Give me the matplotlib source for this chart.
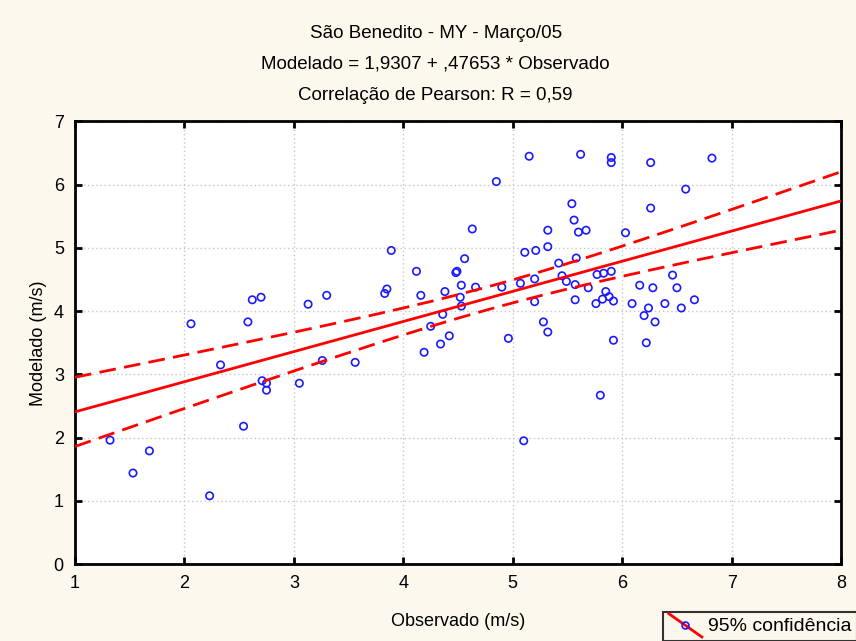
import numpy as np
import matplotlib
matplotlib.use("Agg")
import matplotlib.pyplot as plt
from matplotlib import font_manager
from matplotlib.lines import Line2D
from matplotlib.legend_handler import HandlerLine2D

# observado / modelado (m/s)
obs = [1.32, 1.53, 1.68, 2.06, 2.23, 2.33, 2.54, 2.58, 2.62, 2.70, 2.71, 2.75, 2.75, 3.05, 3.13,
       3.30, 3.26, 3.56, 3.83, 3.85, 3.89, 4.12, 4.16, 4.19, 4.25, 4.34, 4.36, 4.38, 4.42, 4.48,
       4.49, 4.52, 4.53, 4.53, 4.56, 4.63, 4.66, 4.85, 4.90, 4.96, 5.07, 5.11, 5.15, 5.20, 5.20,
       5.21, 5.28, 5.32, 5.32, 5.32, 5.62, 5.90, 5.90, 6.26, 6.82, 6.58, 5.54, 6.26, 5.56, 5.60,
       5.67, 6.03, 5.42, 5.58, 5.45, 5.49, 5.57, 5.69, 5.77, 5.83, 5.90, 6.46, 6.16, 6.28, 6.50,
       5.85, 5.88, 5.92, 5.82, 5.76, 5.57, 6.09, 6.24, 6.39, 6.54, 6.66, 6.20, 6.30, 5.92, 6.22,
       5.80, 5.10]
mod = [1.96, 1.44, 1.79, 3.80, 1.08, 3.15, 2.18, 3.83, 4.18, 4.22, 2.90, 2.86, 2.75, 2.86, 4.11,
       4.25, 3.22, 3.19, 4.28, 4.35, 4.96, 4.63, 4.25, 3.35, 3.76, 3.48, 3.95, 4.31, 3.61, 4.61,
       4.63, 4.22, 4.08, 4.41, 4.83, 5.30, 4.38, 6.05, 4.38, 3.57, 4.44, 4.93, 6.45, 4.51, 4.15,
       4.96, 3.83, 5.28, 5.02, 3.67, 6.48, 6.43, 6.35, 6.35, 6.42, 5.93, 5.70, 5.63, 5.44, 5.25,
       5.28, 5.24, 4.76, 4.84, 4.56, 4.47, 4.42, 4.37, 4.58, 4.60, 4.63, 4.57, 4.41, 4.37, 4.37,
       4.31, 4.23, 4.16, 4.19, 4.12, 4.18, 4.12, 4.05, 4.12, 4.05, 4.18, 3.93, 3.83, 3.54, 3.50,
       2.67, 1.95]

# regression from the title
a = 1.9307
b = 0.47653

names = [f.name for f in font_manager.fontManager.ttflist]
if "Liberation Sans Narrow" in names:
  font = "Liberation Sans Narrow"
else:
  font = "Liberation Sans"
plt.rcParams['font.family'] = [font, 'DejaVu Sans']

bg = "#fcf8ee"
fig = plt.figure(figsize=(8.56, 6.41), dpi=100, facecolor=bg)
ax = fig.add_axes([0.0876, 0.12, 0.895, 0.6905])
ax.set_facecolor("white")

x = np.array(obs)
y = np.array(mod)
n = len(x)
xx = np.linspace(1, 8, 200)
yy = a + b * xx

# 95% confidence band around the mean prediction
resid = y - (a + b * x)
s = np.sqrt(np.sum(resid**2) / (n - 2))
sxx = np.sum((x - x.mean())**2)
half = 1.986 * s * np.sqrt(1.0 / n + (xx - x.mean())**2 / sxx)

ax.scatter(obs, mod, s=28, facecolors='none', edgecolors='#1a1aff', linewidths=1.2, zorder=3)
ax.plot(xx, yy, color='red', lw=2.0, zorder=4)
ax.plot(xx, yy + half, color='red', lw=2.0, dashes=(6, 3), zorder=4)
ax.plot(xx, yy - half, color='red', lw=2.0, dashes=(6, 3), zorder=4)

ax.set_xlim(1, 8)
ax.set_ylim(0, 7)
ax.set_xticks(range(1, 9))
ax.set_yticks(range(0, 8))
ax.grid(True, color='#c8c8c8', linestyle=(0, (1, 2)), lw=1.0)
ax.tick_params(direction='in', length=5, width=2, top=True, right=True,
               labelsize=13, pad=8, colors='black')
for sp in ax.spines.values():
  sp.set_linewidth(2)

ax.set_xlabel("Observado (m/s)", fontsize=13, labelpad=15)
ax.set_ylabel("Modelado (m/s)", fontsize=13, labelpad=5)

fig.text(0.509, 0.948, "São Benedito - MY - Março/05", ha='center', va='center', fontsize=13.5)
fig.text(0.509, 0.900, "Modelado = 1,9307 + ,47653 * Observado", ha='center', va='center', fontsize=13.5)
fig.text(0.509, 0.851, "Correlação de Pearson: R = 0,59", ha='center', va='center', fontsize=13.5)


class DiagHandler(HandlerLine2D):
  def create_artists(self, legend, orig_handle, xdescent, ydescent, width, height, fontsize, trans):
    x0, x1 = -xdescent, width - xdescent
    y0, y1 = height - ydescent + 3, -ydescent - 4
    ln = Line2D([x0, x1], [y0, y1], color='red', lw=2.0, transform=trans)
    mk = Line2D([(x0 + x1) / 2], [(y0 + y1) / 2], marker='o', ms=5, mfc='none',
                mec='#1a1aff', mew=1.2, ls='none', transform=trans)
    return [ln, mk]


h = Line2D([], [], color='red')
leg = fig.legend([h], ["95% confidência"], handler_map={h: DiagHandler()},
                 loc='upper left', bbox_to_anchor=(663 / 856, 1 - 612 / 641),
                 fontsize=14, frameon=True, fancybox=False, edgecolor='black',
                 handlelength=1.7, handletextpad=0.3, borderpad=0.3, borderaxespad=0)
leg.get_frame().set_linewidth(1.5)
leg.get_frame().set_facecolor(bg)

fig.savefig("out.png", dpi=100, facecolor=bg)
